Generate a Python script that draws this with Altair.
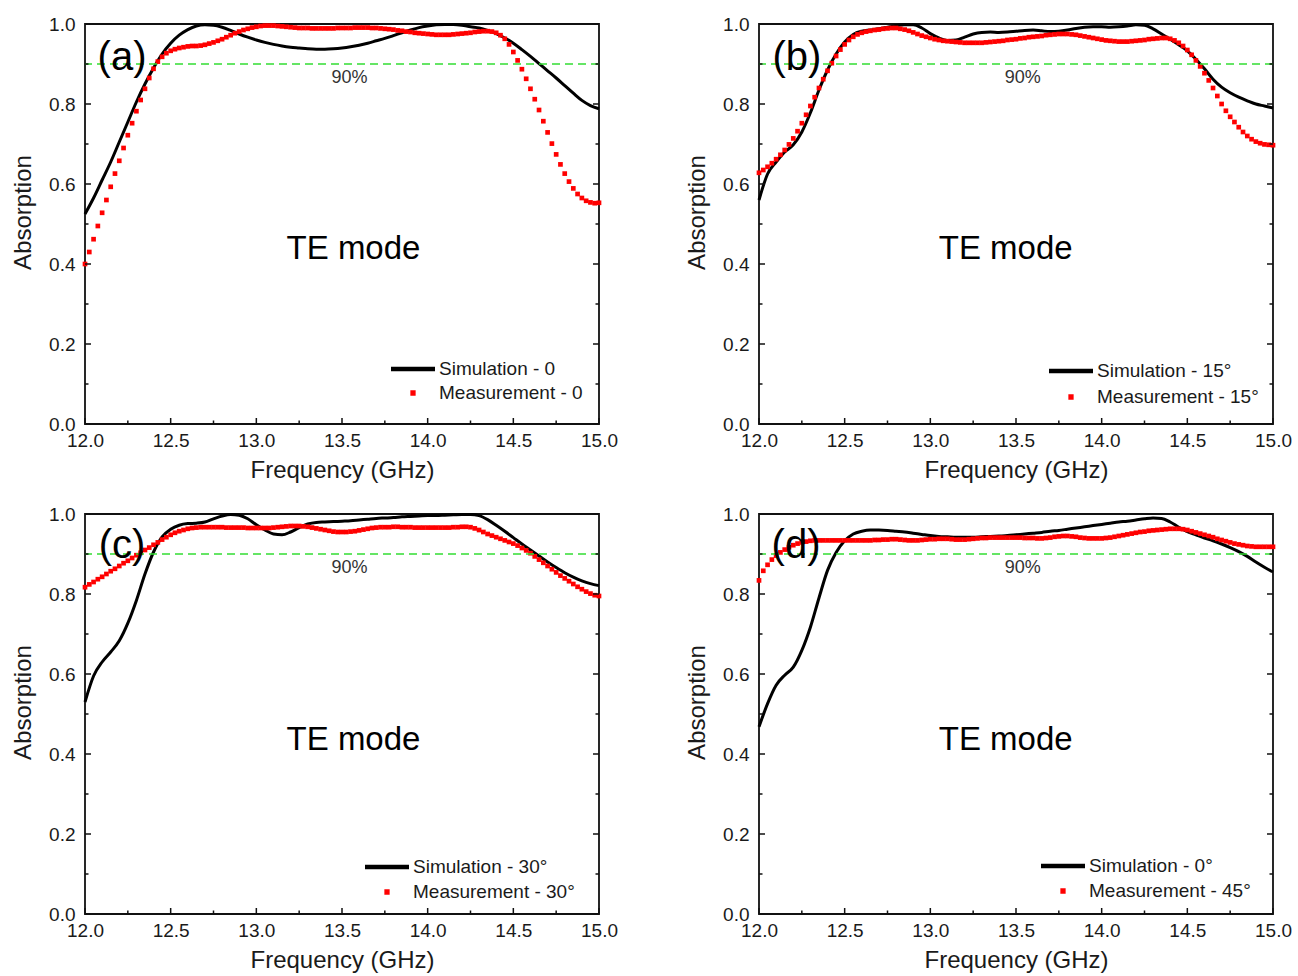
import altair as alt
import pandas as pd

F_MIN, F_MAX = 12.0, 15.0
X_MAJOR = [12.0, 12.5, 13.0, 13.5, 14.0, 14.5, 15.0]
X_MINOR = [12.25, 12.75, 13.25, 13.75, 14.25, 14.75]
Y_MAJOR = [0.0, 0.2, 0.4, 0.6, 0.8, 1.0]
Y_MINOR = [0.1, 0.3, 0.5, 0.7, 0.9]
THRESHOLD = [0.9]

# ---- simulation curves (12.0 .. 15.0 GHz, evenly spaced) ----
sim_a = [0.525, 0.565, 0.610, 0.655, 0.705, 0.755, 0.805, 0.850, 0.890, 0.925,
         0.952, 0.972, 0.986, 0.995, 0.998, 0.997, 0.992, 0.984, 0.975, 0.967,
         0.960, 0.954, 0.949, 0.945, 0.942, 0.940, 0.938, 0.937, 0.937, 0.938,
         0.940, 0.943, 0.947, 0.952, 0.958, 0.964, 0.971, 0.978, 0.985, 0.991,
         0.995, 0.998, 0.999, 0.999, 0.997, 0.993, 0.990, 0.984, 0.976, 0.965,
         0.952, 0.936, 0.919, 0.901, 0.883, 0.865, 0.846, 0.827, 0.809, 0.796,
         0.788]
sim_b = [0.560, 0.625, 0.655, 0.680, 0.698, 0.730, 0.778, 0.835, 0.885, 0.925,
         0.955, 0.974, 0.982, 0.985, 0.988, 0.992, 0.996, 0.998, 0.998, 0.990,
         0.976, 0.965, 0.959, 0.960, 0.967, 0.975, 0.979, 0.980, 0.979, 0.980,
         0.982, 0.984, 0.985, 0.983, 0.981, 0.982, 0.985, 0.989, 0.992, 0.993,
         0.993, 0.992, 0.993, 0.995, 0.998, 0.997, 0.988, 0.975, 0.962, 0.948,
         0.933, 0.912, 0.888, 0.862, 0.842, 0.828, 0.817, 0.808, 0.800, 0.795,
         0.790]
sim_c = [0.530, 0.595, 0.630, 0.655, 0.683, 0.727, 0.784, 0.850, 0.905, 0.943,
         0.962, 0.972, 0.976, 0.977, 0.980, 0.988, 0.995, 0.999, 0.997, 0.988,
         0.973, 0.960, 0.950, 0.948, 0.955, 0.966, 0.975, 0.979, 0.980, 0.981,
         0.982, 0.983, 0.985, 0.987, 0.989, 0.990, 0.991, 0.993, 0.994, 0.995,
         0.996, 0.996, 0.997, 0.998, 0.999, 0.999, 0.996, 0.986, 0.972, 0.957,
         0.941, 0.925, 0.910, 0.895, 0.880, 0.866, 0.853, 0.842, 0.833, 0.826,
         0.821]
sim_d = [0.468, 0.526, 0.572, 0.597, 0.617, 0.659, 0.717, 0.790, 0.859, 0.904,
         0.933, 0.950, 0.957, 0.960, 0.960, 0.959, 0.957, 0.955, 0.952, 0.949,
         0.946, 0.944, 0.943, 0.942, 0.942, 0.942, 0.943, 0.944, 0.945, 0.946,
         0.948, 0.950, 0.952, 0.954, 0.957, 0.959, 0.962, 0.965, 0.968, 0.971,
         0.974, 0.977, 0.980, 0.982, 0.985, 0.988, 0.990, 0.989, 0.980, 0.967,
         0.956, 0.948, 0.940, 0.933, 0.925, 0.916, 0.906, 0.894, 0.880, 0.867,
         0.855]

# ---- measurement samples (12.0 .. 15.0 GHz, evenly spaced) ----
meas_a = [0.400, 0.430, 0.462, 0.495, 0.528, 0.560, 0.593, 0.626,
          0.658, 0.690, 0.722, 0.752, 0.782, 0.810, 0.838, 0.865,
          0.888, 0.906, 0.918, 0.927, 0.933, 0.937, 0.940, 0.942,
          0.944, 0.945, 0.945, 0.946, 0.948, 0.951, 0.954, 0.958,
          0.962, 0.967, 0.972, 0.977, 0.981, 0.985, 0.988, 0.991,
          0.993, 0.995, 0.996, 0.996, 0.996, 0.995, 0.994, 0.993,
          0.992, 0.991, 0.990, 0.990, 0.990, 0.989, 0.989, 0.989,
          0.989, 0.989, 0.989, 0.990, 0.990, 0.990, 0.990, 0.991,
          0.991, 0.991, 0.991, 0.990, 0.990, 0.989, 0.988, 0.987,
          0.986, 0.984, 0.983, 0.981, 0.980, 0.978, 0.977, 0.976,
          0.975, 0.974, 0.973, 0.973, 0.973, 0.973, 0.974, 0.975,
          0.976, 0.977, 0.978, 0.980, 0.981, 0.982, 0.982, 0.981,
          0.978, 0.972, 0.963, 0.949, 0.930, 0.909, 0.887, 0.863,
          0.838, 0.812, 0.785, 0.757, 0.729, 0.701, 0.674, 0.649,
          0.626, 0.606, 0.589, 0.575, 0.565, 0.558, 0.554, 0.552,
          0.553]
meas_b = [0.628, 0.635, 0.643, 0.652, 0.662, 0.673, 0.685, 0.699,
          0.714, 0.732, 0.752, 0.773, 0.795, 0.817, 0.840, 0.862,
          0.883, 0.902, 0.920, 0.936, 0.949, 0.960, 0.968, 0.974,
          0.978, 0.981, 0.983, 0.985, 0.986, 0.988, 0.989, 0.990,
          0.990, 0.988, 0.986, 0.983, 0.979, 0.975, 0.971, 0.968,
          0.965, 0.962, 0.960, 0.958, 0.957, 0.956, 0.955, 0.954,
          0.953, 0.953, 0.953, 0.953, 0.953, 0.954, 0.955, 0.956,
          0.957, 0.958, 0.960, 0.961, 0.962, 0.964, 0.965, 0.967,
          0.968, 0.969, 0.970, 0.972, 0.973, 0.974, 0.975, 0.975,
          0.975, 0.974, 0.973, 0.971, 0.969, 0.967, 0.965, 0.963,
          0.961, 0.959, 0.958, 0.957, 0.956, 0.956, 0.956, 0.957,
          0.958, 0.959, 0.960, 0.962, 0.963, 0.964, 0.965, 0.965,
          0.963, 0.959, 0.953, 0.945, 0.935, 0.923, 0.909, 0.894,
          0.877, 0.859, 0.840, 0.820, 0.800, 0.783, 0.768, 0.755,
          0.742, 0.730, 0.720, 0.712, 0.706, 0.702, 0.699, 0.698,
          0.697]
meas_c = [0.817, 0.824, 0.830, 0.837, 0.843, 0.850, 0.857, 0.863,
          0.870, 0.877, 0.883, 0.890, 0.897, 0.903, 0.910, 0.916,
          0.923, 0.929, 0.936, 0.942, 0.948, 0.953, 0.957, 0.960,
          0.963, 0.965, 0.966, 0.967, 0.967, 0.967, 0.967, 0.967,
          0.967, 0.966, 0.966, 0.966, 0.966, 0.966, 0.965, 0.965,
          0.965, 0.965, 0.965, 0.965, 0.966, 0.967, 0.968, 0.969,
          0.970, 0.970, 0.970, 0.969, 0.968, 0.966, 0.964, 0.962,
          0.960, 0.958, 0.956, 0.955, 0.955, 0.955, 0.956, 0.957,
          0.959, 0.961, 0.963, 0.965, 0.966, 0.967, 0.967, 0.967,
          0.968, 0.968, 0.967, 0.967, 0.967, 0.966, 0.966, 0.966,
          0.966, 0.966, 0.966, 0.966, 0.966, 0.966, 0.967, 0.967,
          0.968, 0.968, 0.967, 0.964, 0.960, 0.955, 0.950, 0.946,
          0.942, 0.938, 0.934, 0.930, 0.926, 0.921, 0.915, 0.909,
          0.902, 0.894, 0.886, 0.878, 0.870, 0.862, 0.854, 0.846,
          0.839, 0.832, 0.825, 0.818, 0.812, 0.806, 0.801, 0.797,
          0.795]
meas_d = [0.834, 0.858, 0.873, 0.886, 0.896, 0.904, 0.911, 0.917,
          0.922, 0.926, 0.929, 0.931, 0.933, 0.934, 0.934, 0.934,
          0.934, 0.934, 0.934, 0.934, 0.934, 0.934, 0.934, 0.934,
          0.934, 0.934, 0.934, 0.935, 0.935, 0.936, 0.936, 0.937,
          0.937, 0.936, 0.935, 0.934, 0.934, 0.934, 0.935, 0.936,
          0.937, 0.937, 0.938, 0.938, 0.938, 0.937, 0.936, 0.936,
          0.936, 0.937, 0.938, 0.939, 0.940, 0.940, 0.941, 0.941,
          0.941, 0.941, 0.941, 0.941, 0.941, 0.941, 0.940, 0.940,
          0.940, 0.939, 0.939, 0.940, 0.941, 0.943, 0.944, 0.945,
          0.945, 0.944, 0.943, 0.941, 0.940, 0.939, 0.939, 0.939,
          0.939, 0.940, 0.941, 0.943, 0.945, 0.947, 0.949, 0.951,
          0.953, 0.955, 0.956, 0.958, 0.959, 0.960, 0.961, 0.962,
          0.963, 0.963, 0.963, 0.962, 0.960, 0.957, 0.954, 0.951,
          0.948, 0.945, 0.942, 0.938, 0.935, 0.932, 0.929, 0.926,
          0.924, 0.922, 0.920, 0.919, 0.918, 0.918, 0.918, 0.918,
          0.918]

sims = [sim_a, sim_b, sim_c, sim_d]
meass = [meas_a, meas_b, meas_c, meas_d]
panel_tags = ["(a)", "(b)", "(c)", "(d)"]
sim_names = ["Simulation - 0", "Simulation - 15°", "Simulation - 30°", "Simulation - 0°"]
meas_names = ["Measurement - 0", "Measurement - 15°", "Measurement - 30°", "Measurement - 45°"]

# annotation anchors (data coordinates)
te_f = [13.567, 13.44, 13.567, 13.44]
te_a = [0.4375, 0.4375, 0.434, 0.434]
tag_f = [12.216, 12.221, 12.216, 12.216]
tag_a = [0.915, 0.915, 0.92, 0.92]
pct_f = [13.544, 13.54, 13.544, 13.54]
pct_a = [0.865, 0.865, 0.865, 0.865]
# legend placement inside each panel (pixels): x, y, row padding
legend_place = [(306, 335, 4), (290, 337, 6), (280, 343, 5), (282, 342, 5)]

W, H = 514, 400
MAJOR_LEN, MINOR_LEN = 6, 3.5
FONT = "Liberation Sans"
TXT = "#1a1a1a"
TICK_COLOR = "#111111"
LINE_SYM = "M-1,-0.1L1,-0.1L1,0.1L-1,0.1Z"
SQUARE_SYM = "M-0.12,-0.12L0.12,-0.12L0.12,0.12L-0.12,0.12Z"


def grid(vals):
    n = len(vals)
    return [F_MIN + (F_MAX - F_MIN) * k / (n - 1) for k in range(n)]


def make_panel(i):
    xs = alt.Scale(domain=[F_MIN, F_MAX], nice=False, zero=False)
    ys = alt.Scale(domain=[0, 1], nice=False, zero=False)

    x_lab = alt.Axis(orient="bottom", values=X_MAJOR, format=".1f", title="Frequency (GHz)",
                     ticks=False, tickSize=0, domain=False, labelPadding=7, titlePadding=8,
                     labelFlush=False, labelOverlap=False, grid=False)
    y_lab = alt.Axis(orient="left", values=Y_MAJOR, format=".1f", title="Absorption",
                     ticks=False, tickSize=0, domain=False, labelPadding=10, titlePadding=13,
                     titleY=188, labelFlush=False, labelOverlap=False, grid=False)

    def X(field="f"):
        return alt.X(f"{field}:Q", scale=xs, axis=x_lab)

    def Y(field="A"):
        return alt.Y(f"{field}:Q", scale=ys, axis=y_lab)

    sim_df = pd.DataFrame({"f": grid(sims[i]), "A": sims[i]})
    meas_df = pd.DataFrame({"f": grid(meass[i]), "A": meass[i]})

    sim = alt.Chart(sim_df).mark_line(color="black", strokeWidth=3, interpolate="monotone").encode(
        x=X(), y=Y())
    pts = alt.Chart(meas_df).mark_square(color="#ff0000", size=22, opacity=1).encode(
        x=X(), y=Y())
    rule = alt.Chart(pd.DataFrame({"A": THRESHOLD})).mark_rule(
        color="#33dd33", strokeDash=[8, 5], strokeWidth=1.6).encode(y=Y())

    # inward-pointing ticks (bottom, left, right), positioned through the scales
    def xticks(values, length):
        return alt.Chart(pd.DataFrame({"f": values})).mark_rule(
            color=TICK_COLOR, strokeWidth=1.5).encode(
            x=X(), y=alt.value(H), y2=alt.value(H - length))

    def yticks(values, length, at_right):
        x0 = W if at_right else 0
        x1 = W - length if at_right else length
        return alt.Chart(pd.DataFrame({"A": values})).mark_rule(
            color=TICK_COLOR, strokeWidth=1.5).encode(
            y=Y(), x=alt.value(x0), x2=alt.value(x1))

    ticks = [xticks(X_MAJOR, MAJOR_LEN), xticks(X_MINOR, MINOR_LEN),
             yticks(Y_MAJOR, MAJOR_LEN, False), yticks(Y_MINOR, MINOR_LEN, False),
             yticks(Y_MAJOR, MAJOR_LEN, True), yticks(Y_MINOR, MINOR_LEN, True)]

    pct = alt.Chart(pd.DataFrame({"f": [pct_f[i]], "A": [pct_a[i]], "t": ["90%"]})).mark_text(
        fontSize=18, color="#333333", font=FONT).encode(x=X(), y=Y(), text="t:N")
    te = alt.Chart(pd.DataFrame({"f": [te_f[i]], "A": [te_a[i]], "t": ["TE mode"]})).mark_text(
        fontSize=33, color="black", font=FONT).encode(x=X(), y=Y(), text="t:N")
    tag = alt.Chart(pd.DataFrame({"f": [tag_f[i]], "A": [tag_a[i]], "t": [panel_tags[i]]})).mark_text(
        fontSize=40, color="black", font=FONT).encode(x=X(), y=Y(), text="t:N")

    lx, ly, rp = legend_place[i]
    leg = alt.Legend(orient="none", legendX=lx, legendY=ly, symbolSize=1936, symbolStrokeWidth=0,
                     labelFontSize=19, labelFont=FONT, labelColor=TXT, labelOffset=4,
                     padding=0, rowPadding=rp, clipHeight=20, labelLimit=400)
    names = [sim_names[i], meas_names[i]]
    legend_layer = alt.Chart(pd.DataFrame({"series": names})).transform_filter("false").mark_point(
        filled=True, opacity=1).encode(
        color=alt.Color("series:N", title=None,
                        scale=alt.Scale(domain=names, range=["black", "#ff0000"]), legend=leg),
        shape=alt.Shape("series:N", title=None,
                        scale=alt.Scale(domain=names, range=[LINE_SYM, SQUARE_SYM]), legend=leg),
    )
    return alt.layer(sim, pts, rule, *ticks, pct, te, tag, legend_layer).properties(width=W, height=H)


chart = alt.concat(*[make_panel(i) for i in range(4)], columns=2,
                   spacing={"row": 90, "column": 160}, bounds="flush").resolve_scale(
    color="independent", shape="independent", x="independent", y="independent").resolve_legend(
    color="independent", shape="independent").properties(
    padding={"left": 10, "top": 14, "right": 5, "bottom": 5}).configure(
    font=FONT).configure_view(stroke="#111111", strokeWidth=1.8).configure_axis(
    labelFont=FONT, labelFontSize=19, labelColor=TXT, titleFont=FONT, titleFontSize=24,
    titleFontWeight="normal", titleColor=TXT, grid=False)

chart.save("out.html", embed_options={"renderer": "svg", "actions": False})
